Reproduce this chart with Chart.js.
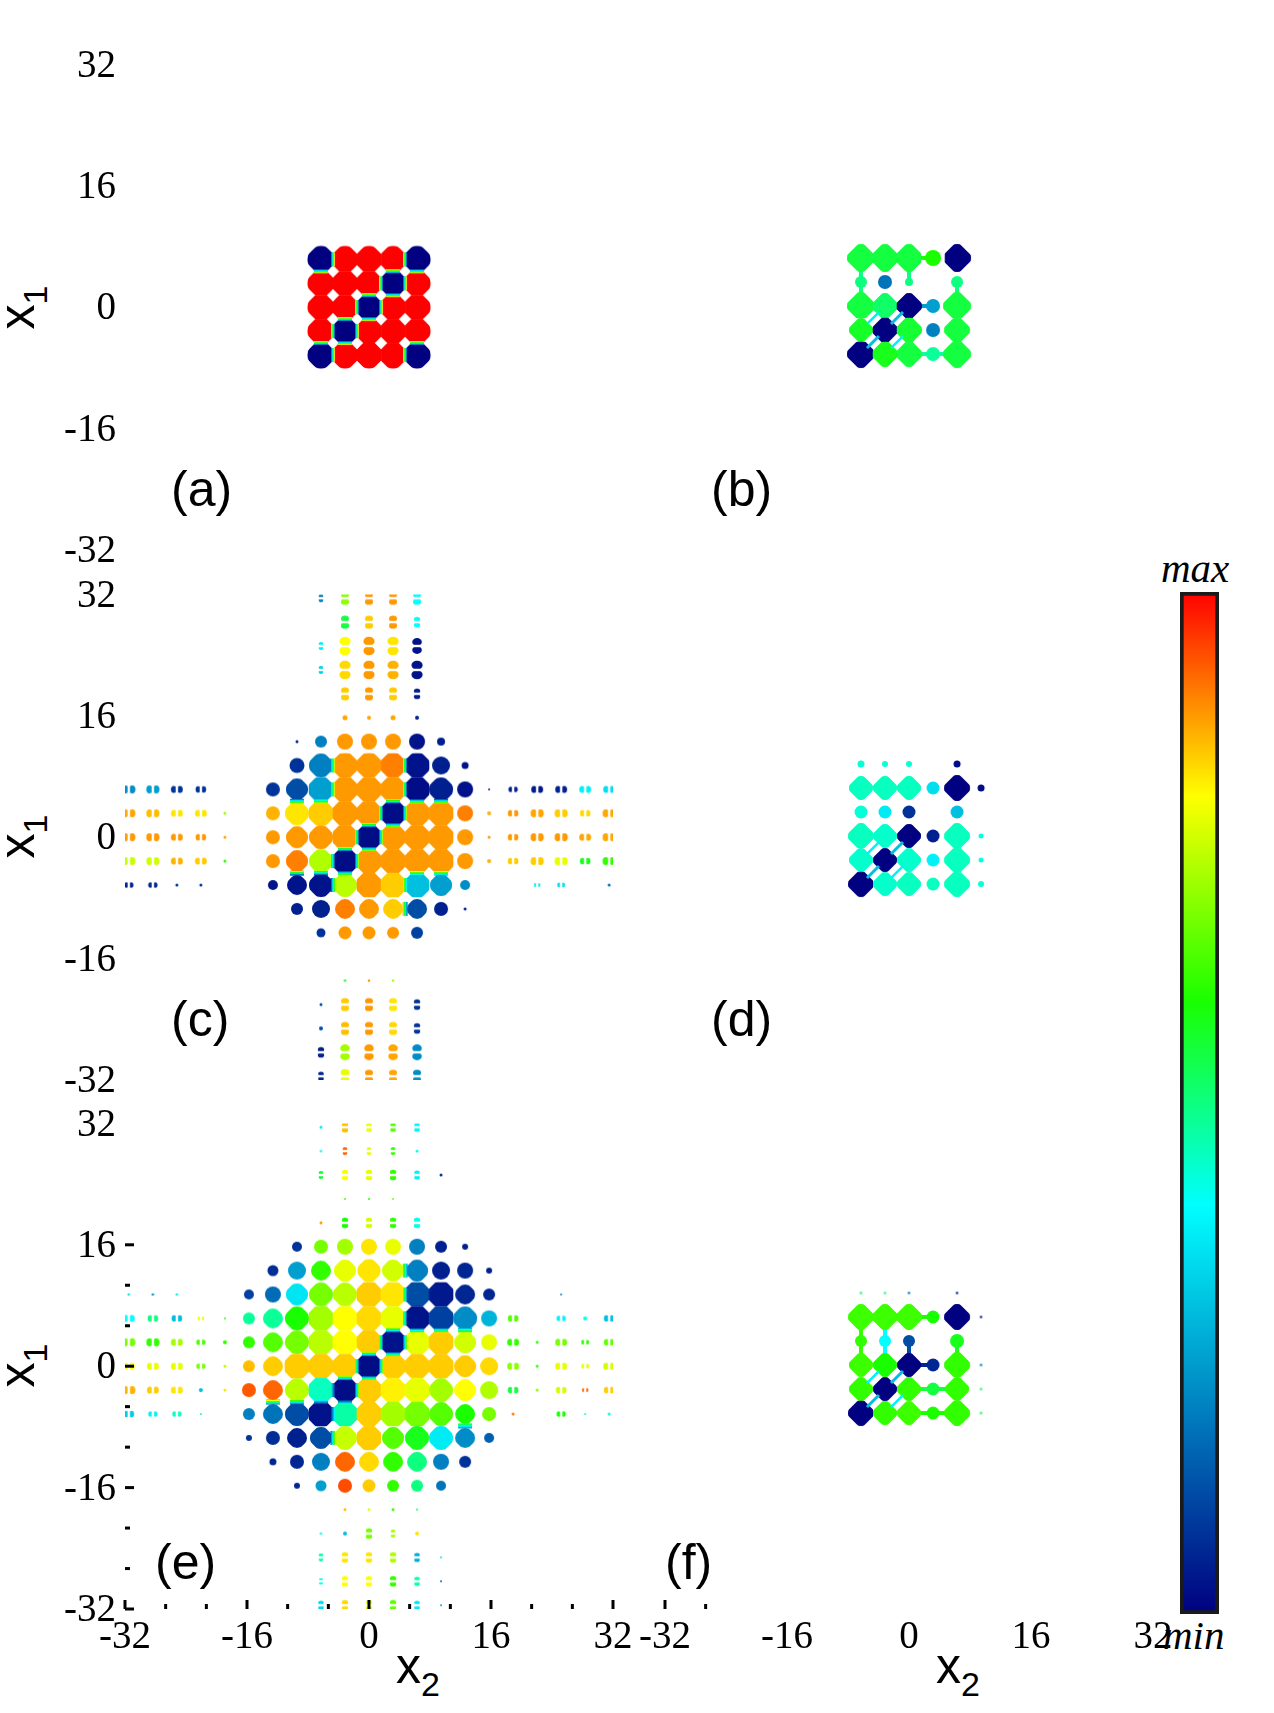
<!DOCTYPE html>
<html>
<head>
<meta charset="utf-8">
<title>x1 x2 maps</title>
<script src="https://cdn.jsdelivr.net/npm/chart.js@4/dist/chart.umd.min.js"></script>
<style>
  html, body { margin: 0; padding: 0; background: #fff; }
  #page { position: relative; width: 1274px; height: 1713px; overflow: hidden; }
  canvas { position: absolute; }
  .tag { position: absolute; font-family: "Liberation Sans", sans-serif; font-size: 50px; line-height: 50px; color: #000; white-space: nowrap; }
  .end { position: absolute; font-family: "Liberation Serif", serif; font-style: italic; font-size: 41px; line-height: 40px; color: #000; }
  .ax { position: absolute; font-family: "Liberation Sans", sans-serif; font-size: 50px; line-height: 50px; color: #000; white-space: nowrap; }
  .ax span { font-size: 34px; position: relative; top: 13px; }
  .ax.v { transform: rotate(-90deg); transform-origin: center; }
</style>
</head>
<body>
<div id="page">
  <div class="tag" style="left:171px;top:464px">(a)</div>
  <div class="tag" style="left:711px;top:464px">(b)</div>
  <div class="tag" style="left:171px;top:994px">(c)</div>
  <div class="tag" style="left:711px;top:994px">(d)</div>
  <div class="tag" style="left:155px;top:1537px">(e)</div>
  <div class="tag" style="left:665px;top:1537px">(f)</div>
  <div class="ax v" style="left:-2px;top:280px">x<span>1</span></div>
  <div class="ax v" style="left:-2px;top:809px">x<span>1</span></div>
  <div class="ax v" style="left:-2px;top:1338px">x<span>1</span></div>
  <div class="ax" style="left:396px;top:1641px">x<span>2</span></div>
  <div class="ax" style="left:936px;top:1641px">x<span>2</span></div>
  <div class="end" style="left:1161px;top:548px">max</div>
  <div class="end" style="left:1163px;top:1615px">min</div>
</div>
<script>
// lattice sites along both axes (in x units)
var siteCoords = [-31.5,-28.35,-25.2,-22.05,-18.9,-15.75,-12.6,-9.45,-6.3,-3.15,0,3.15,6.3,9.45,12.6,15.75,18.9,22.05,25.2,28.35,31.5];
var rowCoords = siteCoords.slice().reverse(); // rows written top to bottom

var axisTicks = [-32, -16, 0, 16, 32];
var eXMarks = [-32,-26.67,-21.33,-16,-10.67,-5.33,0,5.33,10.67,16,21.33,26.67,32];
var eYMarks = [16,10.67,5.33,0,-5.33,-10.67,-16,-21.33,-26.67,-32];
var fXMarks = [-32,-26.67];

// colour bar: position, colour
var barStops = [[0,'#000080'],[0.4,'#00ffff'],[0.6,'#1aff00'],[0.8,'#ffff00'],[1,'#ff0000']];

var _ = null;

// small panels: rows +3..-2 , cols -2..+3 of the lattice
var smallRows = [9.45,6.3,3.15,0,-3.15,-6.3];
var smallCols = [-6.3,-3.15,0,3.15,6.3,9.45];

var aLevel = [
  [_,_,_,_,_,_],
  [0,100,100,100,0,_],
  [100,100,100,0,100,_],
  [100,100,0,100,100,_],
  [100,0,100,100,100,_],
  [0,100,100,100,0,_]];
var aAmp = [
  [_,_,_,_,_,_],
  [13.5,13.5,13.5,13.5,13.5,_],
  [13.5,13.5,13.5,13.5,13.5,_],
  [13.5,13.5,13.5,13.5,13.5,_],
  [13.5,13.5,13.5,13.5,13.5,_],
  [13.5,13.5,13.5,13.5,13.5,_]];

var bLevel = [
  [_,_,_,_,_,_],
  [55,55,55,60,0,_],
  [50,18,50,_,50,_],
  [55,52,0,25,55,_],
  [57,0,56,20,55,_],
  [0,58,55,48,55,_]];
var bAmp = [
  [_,_,_,_,_,_],
  [14,14,14,8,14,_],
  [6,7,4,_,6,_],
  [14,13,13,7,14,_],
  [12,13,13,7,13,_],
  [14,13,13,7,14,_]];

var dLevel = [
  [43,43,43,_,2,_],
  [45,45,45,35,0,2],
  [43,37,8,_,30,_],
  [45,44,0,5,45,42],
  [44,0,44,38,45,42],
  [0,44,45,45,45,43]];
var dAmp = [
  [3.5,3,3,_,3.5,_],
  [12,12,12,6.5,13,3.5],
  [6.5,6.5,6.5,_,6.5,_],
  [13,12,12,6.5,13,2.5],
  [12,12,12,6.5,13,2.5],
  [13,12,12,6.5,13,3]];

var fLevel = [
  [52,50,18,_,5,_],
  [63,63,63,60,0,5],
  [62,40,12,_,58,_],
  [63,60,0,6,62,20],
  [62,0,62,55,62,52],
  [0,62,63,60,62,55]];
var fAmp = [
  [1.2,1.2,1.2,_,1.2,_],
  [13,13,13,6.5,13,1.2],
  [6,6,6,_,7,_],
  [12,12,12,6.5,13,1.2],
  [12,12,12,6.5,12,1.2],
  [13,12,12,6.5,13,1.2]];

// big panels: 21 x 21 lattice, rows +10 .. -10
var cLevel = [
  [_,_,_,_,_,_,_,_,20,70,88,88,40,_,_,_,_,_,_,_,_],
  [_,_,_,_,_,_,_,_,_,55,84,88,40,_,_,_,_,_,_,_,_],
  [_,_,_,_,_,_,_,_,38,80,88,82,3,_,_,_,_,_,_,_,_],
  [_,_,_,_,_,_,_,_,33,83,88,86,3,_,_,_,_,_,_,_,_],
  [_,_,_,_,_,_,_,_,_,84,88,84,5,_,_,_,_,_,_,_,_],
  [_,_,_,_,_,_,_,_,_,87,87,87,5,_,_,_,_,_,_,_,_],
  [_,_,_,_,_,_,_,5,20,88,88,88,3,5,_,_,_,_,_,_,_],
  [_,_,_,_,_,_,_,8,20,88,88,90,3,5,3,_,_,_,_,_,_],
  [22,25,8,8,_,_,8,12,25,88,88,88,2,5,3,5,5,4,5,38,35],
  [87,85,82,82,72,_,86,82,84,88,88,2,88,88,90,86,88,87,84,83,87],
  [88,88,88,88,87,_,88,88,88,88,2,88,88,88,88,88,88,88,88,87,87],
  [75,76,86,84,62,_,88,90,73,2,88,88,88,88,88,86,84,84,78,58,62],
  [5,6,8,8,_,_,3,3,3,74,88,84,30,25,22,_,_,37,35,_,18],
  [_,_,_,_,_,_,_,5,5,90,88,84,12,5,5,_,_,_,_,_,_],
  [_,_,_,_,_,_,_,_,8,88,88,88,10,_,_,_,_,_,_,_,_],
  [_,_,_,_,_,_,_,_,_,_,_,_,_,_,_,_,_,_,_,_,_],
  [_,_,_,_,_,_,_,_,_,58,88,72,_,_,_,_,_,_,_,_,_],
  [_,_,_,_,_,_,_,_,12,84,88,82,8,_,_,_,_,_,_,_,_],
  [_,_,_,_,_,_,_,_,12,85,88,83,8,_,_,_,_,_,_,_,_],
  [_,_,_,_,_,_,_,_,5,72,88,87,22,_,_,_,_,_,_,_,_],
  [_,_,_,_,_,_,_,_,5,78,88,87,22,_,_,_,_,_,_,_,_]];
var cAmp = [
  [_,_,_,_,_,_,_,_,3,5,5,5,5,_,_,_,_,_,_,_,_],
  [_,_,_,_,_,_,_,_,_,5,5,5,4,_,_,_,_,_,_,_,_],
  [_,_,_,_,_,_,_,_,3,7,7,7,6,_,_,_,_,_,_,_,_],
  [_,_,_,_,_,_,_,_,3,7,7,7,7,_,_,_,_,_,_,_,_],
  [_,_,_,_,_,_,_,_,_,5,5,5,4,_,_,_,_,_,_,_,_],
  [_,_,_,_,_,_,_,_,_,2.5,2,2.5,2,_,_,_,_,_,_,_,_],
  [_,_,_,_,_,_,_,1.5,6,8,8,8,8,4,_,_,_,_,_,_,_],
  [_,_,_,_,_,_,_,7.5,12,13,13,13,13,9,3.5,_,_,_,_,_,_],
  [5,5,4.5,4,_,_,7,11,13,13.5,13.5,13.5,13.5,12,8,1,3.5,4.5,4.5,4.5,4.5],
  [5,5,4.5,4.5,1.5,_,7,12,13,13.5,13.5,13.5,13.5,13.5,8,2,4,5,5,4,5],
  [5,5,4.5,4,1.5,_,7,11,12,13.5,13.5,13.5,13.5,13.5,8,1.5,4,5,5,4.5,5],
  [5,5,4.5,4.5,1.5,_,7,11,12,13.5,13.5,13.5,13.5,13.5,8,2,4,5,5,4,5],
  [3.5,3.5,1.5,1.5,_,_,5,10,12,12,13.5,13.5,13,11,5,_,_,2.5,3,_,1.5],
  [_,_,_,_,_,_,_,6,9,10,10,10,10,7,1.5,_,_,_,_,_,_],
  [_,_,_,_,_,_,_,_,4.5,6.5,6.5,6,6,_,_,_,_,_,_,_,_],
  [_,_,_,_,_,_,_,_,_,_,_,_,_,_,_,_,_,_,_,_,_],
  [_,_,_,_,_,_,_,_,_,1.2,1.3,1.3,_,_,_,_,_,_,_,_,_],
  [_,_,_,_,_,_,_,_,1.5,5,5,5,4,_,_,_,_,_,_,_,_],
  [_,_,_,_,_,_,_,_,2,5,5,5,4,_,_,_,_,_,_,_,_],
  [_,_,_,_,_,_,_,_,4,6,6,6,6,_,_,_,_,_,_,_,_],
  [_,_,_,_,_,_,_,_,3.5,5.5,5,5,5,_,_,_,_,_,_,_,_]];

var eLevel = [
  [_,_,_,_,_,_,_,_,38,85,78,65,38,_,_,_,_,_,_,_,_],
  [_,_,_,_,_,_,_,_,38,92,78,62,40,_,_,_,_,_,_,_,_],
  [_,_,_,_,_,_,_,_,56,80,78,62,38,8,_,_,_,_,_,_,_],
  [_,_,_,_,_,_,_,_,_,65,62,68,_,_,_,_,_,_,_,_,_],
  [_,_,_,_,_,_,_,_,88,60,76,62,42,_,_,_,_,_,_,_,_],
  [_,_,_,_,_,_,_,8,68,72,82,78,20,5,5,_,_,_,_,_,_],
  [_,_,_,_,_,_,7,25,62,78,82,76,20,5,6,5,_,_,_,_,_],
  [36,24,38,_,_,10,17,36,68,74,84,82,12,4,6,6,_,_,20,_,_],
  [40,50,30,78,62,48,48,60,72,80,83,78,3,10,22,28,65,_,38,42,30],
  [68,62,72,64,62,62,65,68,74,80,84,3,78,84,76,78,62,62,68,62,66],
  [80,78,78,68,74,85,84,84,84,84,2,84,84,84,84,83,70,62,78,78,76],
  [86,84,82,30,82,93,92,74,45,2,84,81,78,72,80,73,55,70,76,92,84],
  [32,38,45,47,_,20,18,12,3,47,84,72,68,65,60,68,90,_,60,42,42],
  [_,_,_,_,_,8,7,5,12,75,84,65,58,37,22,15,_,_,_,_,_],
  [_,_,_,_,_,_,6,6,20,92,83,62,50,20,8,_,_,_,_,_,_],
  [_,_,_,_,_,_,_,6,25,94,84,62,50,18,_,_,_,_,_,_,_],
  [_,_,_,_,_,_,_,_,_,85,78,62,52,_,_,_,_,_,_,_,_],
  [_,_,_,_,_,_,_,_,42,30,68,72,82,_,_,_,_,_,_,_,_],
  [_,_,_,_,_,_,_,_,47,82,82,73,27,36,_,_,_,_,_,_,_],
  [_,_,_,_,_,_,_,_,42,80,80,62,47,15,_,_,_,_,_,_,_],
  [_,_,_,_,_,_,_,_,34,83,78,66,36,25,_,_,_,_,_,_,_]];
var eAmp = [
  [_,_,_,_,_,_,_,_,1.5,4,3.5,3.5,3.5,_,_,_,_,_,_,_,_],
  [_,_,_,_,_,_,_,_,1.2,3,3,3,1.5,_,_,_,_,_,_,_,_],
  [_,_,_,_,_,_,_,_,3,4,4,4,3.5,1.5,_,_,_,_,_,_,_],
  [_,_,_,_,_,_,_,_,_,1,1,1,_,_,_,_,_,_,_,_,_],
  [_,_,_,_,_,_,_,_,1.5,4,4,4,4,_,_,_,_,_,_,_,_],
  [_,_,_,_,_,_,_,5,7,8,8,8,8,6,3,_,_,_,_,_,_],
  [_,_,_,_,_,_,5.5,9,10,11,11.5,11,11,9,8,3,_,_,_,_,_],
  [1.2,1.2,1.2,_,_,5,8,11,12,12,13.5,13.5,13.5,13.5,10,6,_,_,1,_,_],
  [4.5,4,4,2.5,1,6,10,12,13.5,13.5,13.5,13.5,13.5,13.5,12,8,4,_,3.5,2,4],
  [5,5,4.5,3.5,2,6,10,12,13.5,13.5,13.5,13.5,13.5,13.5,11,8,4.5,1.5,4.5,3,4],
  [4.5,4.5,4.5,3.5,1.5,6,10,13.5,13.5,13.5,13.5,13.5,13.5,13.5,11,9,4.5,1.5,4.5,3,4.5],
  [5,4.5,4.5,2,1.5,7,10,12,13.5,13.5,13.5,13.5,13.5,12,11,9,4,1.5,4,2.5,4],
  [4,3.5,3.5,1,_,6,10,12,13.5,13.5,13.5,13.5,13.5,12,10,7,1.5,_,3.5,1,1.5],
  [_,_,_,_,_,3,7,10,11,12,13,11,12,12,10,5,_,_,_,_,_],
  [_,_,_,_,_,_,3.5,7,9,10,10,10,10,8,6,_,_,_,_,_,_],
  [_,_,_,_,_,_,_,3,5.5,7,6.5,6,6,5,_,_,_,_,_,_,_],
  [_,_,_,_,_,_,_,_,_,1.5,1.5,1.5,1,_,_,_,_,_,_,_,_],
  [_,_,_,_,_,_,_,_,1.2,2,4,3,2,_,_,_,_,_,_,_,_],
  [_,_,_,_,_,_,_,_,3,4,4,4,3.5,1,_,_,_,_,_,_,_],
  [_,_,_,_,_,_,_,_,2.5,4,4,4,3.5,1,_,_,_,_,_,_,_],
  [_,_,_,_,_,_,_,_,3.5,4,4,4,3.5,1,_,_,_,_,_,_,_]];

// chart area of every panel on the page
var AREA = 488, LEFT = 125, RIGHT = 40, TOP = 30, BOTTOM = 60;
var HALF_CELL = 12.3; // a site stops halfway to a big neighbour

function levelColor(level) {
  var t = level / 100;
  for (var i = 1; i < barStops.length; i++) {
    if (t <= barStops[i][0]) {
      var a = barStops[i-1], b = barStops[i];
      var f = (t - a[0]) / (b[0] - a[0]);
      var ca = hex(a[1]), cb = hex(b[1]);
      return 'rgb(' + [0,1,2].map(function(k) { return Math.round(ca[k] + (cb[k]-ca[k]) * f); }).join(',') + ')';
    }
  }
  return barStops[barStops.length-1][1];
}
function hex(s) {
  return [parseInt(s.substr(1,2),16), parseInt(s.substr(3,2),16), parseInt(s.substr(5,2),16)];
}

var sprites = {};
// split: 0 whole disc, 1 two lobes above each other (upper/lower arms), 2 two lobes side by side (side arms)
// sides: which neighbours cut the disc, as "NESW" flags
// cut: how far the diamond corners reach, relative to the disc
function siteSprite(level, amp, split, sides, cut) {
  var key = [level, amp, split, sides, cut].join('/');
  if (sprites[key]) return sprites[key];
  var size = Math.ceil(amp * 4) + 6;
  var c = document.createElement('canvas');
  c.width = c.height = size;
  var g = c.getContext('2d');
  g.translate(size/2, size/2);
  g.fillStyle = levelColor(level);
  if (split && amp >= 2.5) {
    var across = amp * 0.8, along = across * 0.8, off = across * 0.85;
    g.beginPath();
    if (split == 1) {
      g.ellipse(0, -off, across, along, 0, 0, Math.PI*2);
      g.ellipse(0, off, across, along, 0, 0, Math.PI*2);
    } else {
      g.ellipse(-off, 0, along, across, 0, 0, Math.PI*2);
      g.ellipse(off, 0, along, across, 0, 0, Math.PI*2);
    }
    g.fill();
    g.globalCompositeOperation = 'destination-out';
    if (split == 1) g.fillRect(-size, -1.2, size*2, 2.4);
    else g.fillRect(-1.2, -size, 2.4, size*2);
  } else {
    var n = sides.charAt(0) == '1' ? HALF_CELL : size, e = sides.charAt(1) == '1' ? HALF_CELL : size;
    var s = sides.charAt(2) == '1' ? HALF_CELL : size, w = sides.charAt(3) == '1' ? HALF_CELL : size;
    g.beginPath();
    g.rect(-w, -n, w+e, n+s);
    g.clip();
    if (amp >= 10) {
      var d = amp * cut;
      g.beginPath();
      g.moveTo(0, -d); g.lineTo(d, 0); g.lineTo(0, d); g.lineTo(-d, 0);
      g.closePath();
      g.clip();
    }
    g.beginPath();
    g.arc(0, 0, amp, 0, Math.PI*2);
    g.fill();
  }
  sprites[key] = c;
  return c;
}

// short stems and diagonal streaks that join neighbouring sites
var linkPlugin = {
  id: 'links',
  beforeDatasetsDraw: function(chart, args, opts) {
    if (!opts.stems) return;
    var ctx = chart.ctx, xs = chart.scales.x, ys = chart.scales.y;
    var L = opts.levels, A = opts.amps;
    function at(r, c) { return L[r] && L[r][c] != null ? L[r][c] : null; }
    function line(r1, c1, r2, c2, color, w) {
      ctx.strokeStyle = color;
      ctx.lineWidth = w;
      ctx.beginPath();
      ctx.moveTo(xs.getPixelForValue(opts.cols[c1]), ys.getPixelForValue(opts.rows[r1]));
      ctx.lineTo(xs.getPixelForValue(opts.cols[c2]), ys.getPixelForValue(opts.rows[r2]));
      ctx.stroke();
    }
    ctx.save();
    for (var r = 0; r < L.length; r++) {
      for (var c = 0; c < L[r].length; c++) {
        if (at(r, c) == null) continue;
        [[r, c+1], [r+1, c]].forEach(function(n) {
          if (at(n[0], n[1]) == null) return;
          var a1 = A[r][c], a2 = A[n[0]][n[1]];
          if (Math.abs(L[r][c] - L[n[0]][n[1]]) > 25) return;
          if (Math.min(a1, a2) >= 4 && Math.min(a1, a2) < 10 && Math.max(a1, a2) >= 12) {
            line(r, c, n[0], n[1], levelColor(a1 < a2 ? L[r][c] : L[n[0]][n[1]]), 4);
          }
        });
      }
    }
    ctx.restore();
  },
  afterDatasetsDraw: function(chart, args, opts) {
    if (!opts.diag) return;
    var ctx = chart.ctx, xs = chart.scales.x, ys = chart.scales.y;
    var L = opts.levels, A = opts.amps;
    function at(r, c) { return L[r] && L[r][c] != null ? L[r][c] : null; }
    ctx.save();
    ctx.lineCap = 'butt';
    for (var r = 0; r < L.length; r++) {
      for (var c = 1; c < L[r].length; c++) {
        var l1 = at(r, c), l2 = at(r+1, c-1);
        if (l1 == null || l2 == null || A[r][c] < 10 || A[r+1][c-1] < 10) continue;
        var x1 = xs.getPixelForValue(opts.cols[c]), y1 = ys.getPixelForValue(opts.rows[r]);
        var x2 = xs.getPixelForValue(opts.cols[c-1]), y2 = ys.getPixelForValue(opts.rows[r+1]);
        var mx = (x1+x2)/2, my = (y1+y2)/2;
        var cross1 = at(r, c-1), cross2 = at(r+1, c);
        if (l1 < 3 && l2 < 3) {
          ctx.strokeStyle = levelColor(30);
          ctx.lineWidth = 3;
        } else if (l1 > 30 && l2 > 30 && (cross1 != null && cross1 < 3 || cross2 != null && cross2 < 3)) {
          ctx.strokeStyle = levelColor(38);
          ctx.lineWidth = 2.5;
        } else continue;
        ctx.beginPath();
        ctx.moveTo(mx-6, my+6);
        ctx.lineTo(mx+6, my-6);
        ctx.stroke();
      }
    }
    ctx.restore();
  }
};

// the thin rainbow edge where a low site meets a high one
var seamPlugin = {
  id: 'seams',
  afterDatasetsDraw: function(chart, args, opts) {
    if (!opts.levels) return;
    var ctx = chart.ctx, xs = chart.scales.x, ys = chart.scales.y;
    function seam(r1, c1, r2, c2) {
      var l1 = opts.levels[r1][c1], l2 = opts.levels[r2] ? opts.levels[r2][c2] : null;
      if (l1 == null || l2 == null) return;
      if (opts.amps[r1][c1] < 10 || opts.amps[r2][c2] < 10) return;
      if (Math.abs(l1-l2) < 30 || Math.min(l1, l2) > 30) return;
      var x1 = xs.getPixelForValue(opts.cols[c1]), y1 = ys.getPixelForValue(opts.rows[r1]);
      var x2 = xs.getPixelForValue(opts.cols[c2]), y2 = ys.getPixelForValue(opts.rows[r2]);
      var mx = (x1+x2)/2, my = (y1+y2)/2, w = 2.5;
      var gr = y1 == y2
        ? ctx.createLinearGradient(mx-w, my, mx+w, my)
        : ctx.createLinearGradient(mx, my-w, mx, my+w);
      for (var i = 0; i <= 6; i++) gr.addColorStop(i/6, levelColor(l1 + (l2-l1)*i/6));
      ctx.save();
      ctx.fillStyle = gr;
      if (y1 == y2) ctx.fillRect(mx-w, my-7, w*2, 14);
      else ctx.fillRect(mx-7, my-w, 14, w*2);
      ctx.restore();
    }
    for (var r = 0; r < opts.rows.length; r++) {
      for (var c = 0; c < opts.cols.length; c++) {
        if (c+1 < opts.cols.length) seam(r, c, r, c+1);
        seam(r, c, r+1, c);
      }
    }
  }
};

// inward ticks, only where they survive in the picture
var tickPlugin = {
  id: 'marks',
  afterDraw: function(chart, args, opts) {
    var ctx = chart.ctx, a = chart.chartArea;
    ctx.save();
    ctx.fillStyle = '#000';
    (opts.x || []).forEach(function(v) {
      var px = chart.scales.x.getPixelForValue(v);
      var len = v % 16 == 0 ? 9 : 5;
      ctx.fillRect(px-1.5, a.bottom-len, 3, len);
    });
    (opts.y || []).forEach(function(v) {
      var py = chart.scales.y.getPixelForValue(v);
      var len = v % 16 == 0 ? 9 : 5;
      ctx.fillRect(a.left, py-1.5, len, 3);
    });
    ctx.restore();
  }
};

function makePanel(left, top, rows, cols, levels, amps, conf) {
  var canvas = document.createElement('canvas');
  canvas.width = LEFT + AREA + RIGHT;
  canvas.height = TOP + AREA + BOTTOM;
  canvas.style.left = left + 'px';
  canvas.style.top = (top - TOP) + 'px';
  document.getElementById('page').appendChild(canvas);

  function big(r, c) { return levels[r] && levels[r][c] != null && amps[r][c] >= 8 ? '1' : '0'; }

  var points = [];
  for (var r = 0; r < rows.length; r++) {
    for (var c = 0; c < cols.length; c++) {
      if (levels[r][c] == null) continue;
      var split = 0;
      if (conf.arms && Math.abs(rows[r]) > 17) split = 1;
      if (conf.arms && Math.abs(cols[c]) > 17) split = 2;
      points.push({
        x: cols[c], y: rows[r], level: levels[r][c], amp: amps[r][c], split: split,
        sides: amps[r][c] >= 8 ? big(r-1, c) + big(r, c+1) + big(r+1, c) + big(r, c-1) : '0000'
      });
    }
  }

  var cut = conf.cut || 1.32;
  var tickFont = { family: 'Liberation Serif', size: 39 };
  new Chart(canvas, {
    type: 'scatter',
    data: {
      datasets: [{
        data: points,
        pointStyle: function(ctx) {
          var p = ctx.raw;
          return p ? siteSprite(p.level, p.amp, p.split, p.sides, cut) : 'circle';
        },
        pointRadius: function(ctx) { return ctx.raw ? ctx.raw.amp : 0; }
      }]
    },
    options: {
      responsive: false,
      animation: false,
      events: [],
      layout: { padding: { top: TOP, right: RIGHT, left: 0, bottom: 0 } },
      plugins: {
        legend: { display: false },
        tooltip: { enabled: false },
        links: { stems: conf.stems, diag: conf.diag, levels: levels, amps: amps, rows: rows, cols: cols },
        seams: { levels: conf.seams ? levels : null, amps: amps, rows: rows, cols: cols },
        marks: { x: conf.xMarks, y: conf.yMarks }
      },
      scales: {
        x: {
          type: 'linear', min: -32, max: 32,
          afterBuildTicks: function(s) { s.ticks = axisTicks.map(function(v) { return { value: v }; }); },
          afterFit: function(s) { s.height = BOTTOM; },
          grid: { display: false, drawTicks: false },
          border: { display: false },
          ticks: { display: !!conf.xLabels, font: tickFont, color: '#000', padding: 5, maxRotation: 0, autoSkip: false }
        },
        y: {
          type: 'linear', min: -32, max: 32,
          afterBuildTicks: function(s) { s.ticks = axisTicks.map(function(v) { return { value: v }; }); },
          afterFit: function(s) { s.width = LEFT; },
          grid: { display: false, drawTicks: false },
          border: { display: false },
          ticks: { display: !!conf.yLabels, font: tickFont, color: '#000', padding: 9, labelOffset: 2, autoSkip: false }
        }
      }
    },
    plugins: [linkPlugin, seamPlugin, tickPlugin]
  });
}

var colX = [0, 540];
var rowY = [62, 592, 1121];

makePanel(colX[0], rowY[0], smallRows, smallCols, aLevel, aAmp, { yLabels: true, seams: true });
makePanel(colX[1], rowY[0], smallRows, smallCols, bLevel, bAmp, { stems: true, diag: true, cut: 1.2 });
makePanel(colX[0], rowY[1], rowCoords, siteCoords, cLevel, cAmp, { yLabels: true, seams: true, arms: true });
makePanel(colX[1], rowY[1], smallRows, smallCols, dLevel, dAmp, { diag: true, cut: 1.2 });
makePanel(colX[0], rowY[2], rowCoords, siteCoords, eLevel, eAmp, { yLabels: true, xLabels: true, seams: true, arms: true, xMarks: eXMarks, yMarks: eYMarks });
makePanel(colX[1], rowY[2], smallRows, smallCols, fLevel, fAmp, { xLabels: true, xMarks: fXMarks, stems: true, diag: true, cut: 1.2 });

// colour bar
var barCanvas = document.createElement('canvas');
barCanvas.width = 39;
barCanvas.height = 1022;
barCanvas.style.left = '1180px';
barCanvas.style.top = '592px';
document.getElementById('page').appendChild(barCanvas);
new Chart(barCanvas, {
  type: 'bar',
  data: {
    labels: ['level'],
    datasets: [{
      data: [[0, 1]],
      barPercentage: 1,
      categoryPercentage: 1,
      borderColor: '#1a1a1a',
      borderWidth: 4,
      borderSkipped: false,
      backgroundColor: function(ctx) {
        var a = ctx.chart.chartArea;
        if (!a) return '#000';
        var g = ctx.chart.ctx.createLinearGradient(0, a.bottom, 0, a.top);
        barStops.forEach(function(s) { g.addColorStop(s[0], s[1]); });
        return g;
      }
    }]
  },
  options: {
    responsive: false,
    animation: false,
    events: [],
    plugins: { legend: { display: false }, tooltip: { enabled: false } },
    scales: {
      x: { display: false },
      y: { display: false, min: 0, max: 1 }
    }
  }
});
</script>
</body>
</html>
